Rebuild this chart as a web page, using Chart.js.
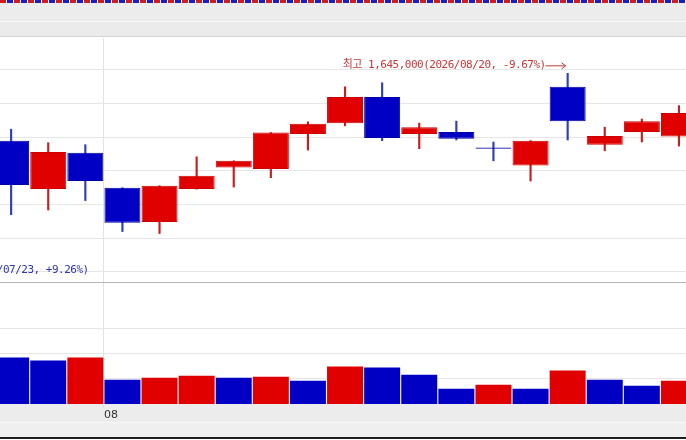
<!DOCTYPE html>
<html lang="ko">
<head>
<meta charset="utf-8">
<title>일봉 차트</title>
<script src="https://cdn.jsdelivr.net/npm/chart.js@4.4.1/dist/chart.umd.min.js"></script>
<style>
  html, body { margin: 0; padding: 0; background: #fff; }
  #wrap { position: relative; width: 686px; height: 440px; overflow: hidden; background: #fff; }
  #wrap > div { position: absolute; left: 0; width: 686px; }
  .strip { top: 0; height: 3px;
    background: repeating-linear-gradient(90deg, #d41c1c 0 6px, #fff 6px 7px, #1c1cc4 7px 13px, #fff 13px 14px); }
  .band1 { top: 3px; height: 18px; background: #ececec; }
  .line1 { top: 21px; height: 1px; background: #f8f8f8; }
  .band2 { top: 22px; height: 14px; background: #ebebeb; }
  .line2 { top: 36px; height: 1px; background: #d4d4d4; }
  .sep { top: 282px; height: 1px; background: #b8b8b8; z-index: 2; }
  .axisBand { top: 404px; height: 18px; background: #ececec; }
  .line3 { top: 422px; height: 1px; background: #f7f7f7; }
  .band3 { top: 423px; height: 14px; background: #efefef; }
  .line4 { top: 437px; height: 2px; background: #1e1e1e; }
  #pricePane { top: 38px; height: 244px; }
  #volPane { top: 283px; height: 139px; }
</style>
</head>
<body>
<div id="wrap">
  <div class="strip"></div>
  <div class="band1"></div>
  <div class="line1"></div>
  <div class="band2"></div>
  <div class="line2"></div>
  <div class="axisBand"></div>
  <div class="line3"></div>
  <div class="band3"></div>
  <div class="line4"></div>
  <div id="pricePane"><canvas id="priceChart"></canvas></div>
  <div id="volPane"><canvas id="volumeChart"></canvas></div>
  <div class="sep"></div>
</div>
<script>
// trading days shown (2026)
const days = ["07/29", "07/30", "07/31", "08/03", "08/04", "08/05", "08/06", "08/07", "08/10", "08/11",
  "08/12", "08/13", "08/14", "08/18", "08/19", "08/20", "08/21", "08/24", "08/25"];
const openP = [1545000, 1473000, 1527000, 1475000, 1424000, 1473000, 1505000, 1503000, 1555000, 1571000,
  1610000, 1555000, 1558000, 1535000, 1508000, 1625000, 1539000, 1558000, 1551000];
const highP = [1562000, 1542000, 1539000, 1475000, 1478000, 1521000, 1515000, 1557000, 1573000, 1625000,
  1631000, 1571000, 1574000, 1543000, 1545000, 1645000, 1565000, 1577000, 1597000];
const lowP = [1435000, 1442000, 1456000, 1410000, 1407000, 1473000, 1476000, 1490000, 1531000, 1567000,
  1545000, 1533000, 1546000, 1515000, 1485000, 1546000, 1530000, 1543000, 1537000];
const closeP = [1479000, 1528000, 1485000, 1423000, 1478000, 1493000, 1515000, 1557000, 1570000, 1610000,
  1549000, 1565000, 1548000, 1533000, 1545000, 1574000, 1552000, 1574000, 1586000];
const volume = [92000, 86000, 92000, 48000, 52000, 56000, 52000, 54000, 46000, 74000,
  72000, 58000, 30000, 38000, 30000, 66000, 48000, 36000, 46000];
const prevVolume = 98000; // day before the first visible bar

// axis ranges and grid lines
const xMin = -0.3, xMax = 18.19;
const monthStarts = [2.5];
const monthLabels = ["08"];
const priceMin = 1335000, priceMax = 1697500;
const priceGrid = [1350000, 1400000, 1450000, 1500000, 1550000, 1600000, 1650000];
const volMax = 239000;
const volGrid = [50000, 100000, 150000];

// period low sits left of the visible window
const lowMark = { index: -4, value: 1360000, date: "2026/07/23", pct: "+9.26%" };
const highPct = "-9.67%";

const RED = "#e00000", BLUE = "#0000c4";
const idx = days.map((d, i) => i);
const isUp = idx.map(i => closeP[i] >= openP[i]);
const volUp = idx.map(i => volume[i] > (i ? volume[i - 1] : prevVolume));

function xAxis(showLabels) {
  return {
    type: "linear", min: xMin, max: xMax, offset: false,
    afterBuildTicks: s => { s.ticks = monthStarts.map(v => ({ value: v })); },
    afterFit: s => { if (showLabels) s.height = 18; },
    grid: { color: "#e2e2e2", offset: false, drawTicks: showLabels, tickLength: 4 },
    border: { display: false },
    ticks: {
      display: showLabels, align: "start", padding: 1, maxRotation: 0,
      color: "#333", font: { family: "'DejaVu Sans', sans-serif", size: 11 },
      callback: (v, i) => monthLabels[i]
    }
  };
}

function yAxis(min, max, grid) {
  return {
    min: min, max: max,
    afterBuildTicks: s => { s.ticks = grid.map(v => ({ value: v })); },
    grid: { color: "#e6e6e6", drawTicks: false },
    border: { display: false },
    ticks: { display: false }
  };
}

function fmt(n) { return n.toLocaleString("en-US"); }

function arrow(ctx, x1, x2, y, dir) {
  ctx.beginPath();
  ctx.moveTo(x1, y + 0.5);
  ctx.lineTo(x2, y + 0.5);
  const tip = dir > 0 ? x2 : x1;
  ctx.moveTo(tip - 4 * dir, y - 2.5);
  ctx.lineTo(tip, y + 0.5);
  ctx.lineTo(tip - 4 * dir, y + 3.5);
  ctx.stroke();
}

const highLowPlugin = {
  id: "highLowMarks",
  afterDatasetsDraw(chart) {
    const { ctx, scales: { x, y } } = chart;
    ctx.save();
    ctx.font = "11px 'DejaVu Sans Mono', 'Noto Sans CJK KR', monospace";
    ctx.letterSpacing = "-0.5px";
    ctx.textBaseline = "middle";
    ctx.lineWidth = 1;

    // 최고
    const hi = highP.indexOf(Math.max(...highP));
    const hx = x.getPixelForValue(hi), hy = y.getPixelForValue(highP[hi]) - 8;
    ctx.fillStyle = ctx.strokeStyle = "#c43838";
    ctx.textAlign = "right";
    ctx.fillText("최고 " + fmt(highP[hi]) + "(2026/" + days[hi] + ", " + highPct + ")", hx - 22, hy);
    arrow(ctx, hx - 22, hx - 2, hy, 1);

    // 최저
    const lx = x.getPixelForValue(lowMark.index), ly = y.getPixelForValue(lowMark.value) + 5;
    ctx.fillStyle = ctx.strokeStyle = "#2c34b0";
    ctx.textAlign = "left";
    arrow(ctx, lx + 2, lx + 22, ly, -1);
    ctx.fillText("최저 " + fmt(lowMark.value) + "(" + lowMark.date + ", " + lowMark.pct + ")", lx + 23, ly);
    ctx.restore();
  }
};

const common = {
  responsive: true,
  maintainAspectRatio: false,
  animation: false,
  layout: { padding: 0 },
  plugins: { legend: { display: false }, tooltip: { enabled: false } }
};

// Price (candles)
new Chart(document.getElementById("priceChart"), {
  type: "bar",
  data: {
    datasets: [
      {
        label: "몸통",
        data: idx.map(i => ({ x: i, y: [openP[i], closeP[i]] })),
        backgroundColor: idx.map(i => isUp[i] ? RED : BLUE),
        borderColor: idx.map(i => isUp[i] ? "#cc0000" : "#0000a8"),
        borderWidth: 1,
        borderSkipped: false,
        barPercentage: 0.97,
        categoryPercentage: 1,
        grouped: false
      },
      {
        label: "꼬리",
        data: idx.map(i => ({ x: i, y: [lowP[i], highP[i]] })),
        backgroundColor: idx.map(i => isUp[i] ? "#c42020" : "#3040b4"),
        barThickness: 1.5,
        grouped: false
      }
    ]
  },
  options: Object.assign({}, common, {
    scales: { x: xAxis(false), y: yAxis(priceMin, priceMax, priceGrid) }
  }),
  plugins: [highLowPlugin]
});

// Volume
new Chart(document.getElementById("volumeChart"), {
  type: "bar",
  data: {
    datasets: [
      {
        label: "거래량",
        data: idx.map(i => ({ x: i, y: volume[i] })),
        backgroundColor: idx.map(i => volUp[i] ? RED : BLUE),
        borderWidth: 0,
        barPercentage: 0.97,
        categoryPercentage: 1,
        grouped: false
      }
    ]
  },
  options: Object.assign({}, common, {
    scales: { x: xAxis(true), y: yAxis(0, volMax, volGrid) }
  })
});
</script>
</body>
</html>
